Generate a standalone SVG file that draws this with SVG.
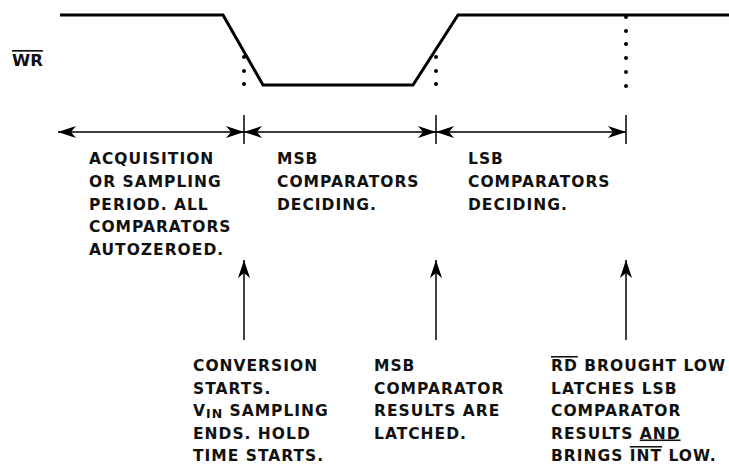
<svg xmlns="http://www.w3.org/2000/svg" width="729" height="465" viewBox="0 0 729 465">
<style>
.t{font-family:"DejaVu Sans","Open Sans",sans-serif;font-weight:700;font-size:15.5px;letter-spacing:1px;fill:#111}
.ovl{text-decoration:overline}
.unl{text-decoration:underline}
.sig{fill:none;stroke:#000;stroke-width:3;stroke-linejoin:miter}
.ar{stroke:#000;stroke-width:1.5;fill:none}
.tk{stroke:#000;stroke-width:1.5}
</style>
<defs>
<marker id="ah" viewBox="0 0 18 12" refX="18" refY="6" markerWidth="18" markerHeight="12" markerUnits="userSpaceOnUse" orient="auto-start-reverse">
<path d="M0,0 L18,6 L0,12 L5,6 z" fill="#000"/>
</marker>
</defs>
<rect width="729" height="465" fill="#fff"/>
<g id="wr-signal">
<polyline class="sig" points="60,15 223,15 263,85 413,85 458,15 729,15"/>
<text class="t ovl" x="12" y="66" style="font-size:16.5px;letter-spacing:0px">WR</text>
</g>
<g id="dots">
<circle cx="244" cy="57" r="2"/><circle cx="244" cy="71" r="2"/><circle cx="244" cy="84" r="2"/>
<circle cx="436" cy="57" r="2"/><circle cx="436" cy="71" r="2"/><circle cx="436" cy="84" r="2"/>
<circle cx="626" cy="17" r="2"/><circle cx="626" cy="31" r="2"/><circle cx="626" cy="44" r="2"/>
<circle cx="626" cy="58" r="2"/><circle cx="626" cy="72" r="2"/><circle cx="626" cy="86" r="2"/>
</g>
<g id="connectors">
<line class="tk" x1="244" y1="115" x2="244" y2="144"/>
<line class="tk" x1="436" y1="115" x2="436" y2="144"/>
<line class="tk" x1="626" y1="115" x2="626" y2="144"/>
<line class="ar" x1="58" y1="132" x2="244" y2="132" marker-start="url(#ah)" marker-end="url(#ah)"/>
<line class="ar" x1="244" y1="132" x2="436" y2="132" marker-start="url(#ah)" marker-end="url(#ah)"/>
<line class="ar" x1="436" y1="132" x2="626" y2="132" marker-start="url(#ah)" marker-end="url(#ah)"/>
<line class="ar" x1="244" y1="340" x2="244" y2="260" marker-end="url(#ah)"/>
<line class="ar" x1="436" y1="340" x2="436" y2="260" marker-end="url(#ah)"/>
<line class="ar" x1="626" y1="340" x2="626" y2="260" marker-end="url(#ah)"/>
</g>
<g id="acquisition">
<text class="t" x="89" y="164">ACQUISITION</text>
<text class="t" x="89" y="187">OR SAMPLING</text>
<text class="t" x="89" y="209.5">PERIOD. ALL</text>
<text class="t" x="89" y="232">COMPARATORS</text>
<text class="t" x="89" y="255">AUTOZEROED.</text>
</g>
<g id="msb-deciding">
<text class="t" x="277" y="164">MSB</text>
<text class="t" x="277" y="187">COMPARATORS</text>
<text class="t" x="277" y="209.5">DECIDING.</text>
</g>
<g id="lsb-deciding">
<text class="t" x="468" y="164">LSB</text>
<text class="t" x="468" y="187">COMPARATORS</text>
<text class="t" x="468" y="209.5">DECIDING.</text>
</g>
<g id="conversion-starts">
<text class="t" x="193" y="371">CONVERSION</text>
<text class="t" x="193" y="393.5">STARTS.</text>
<text class="t" x="193" y="416">V<tspan font-size="12.5" dy="2">IN</tspan><tspan dy="-2"> SAMPLING</tspan></text>
<text class="t" x="193" y="438.5">ENDS. HOLD</text>
<text class="t" x="193" y="461">TIME STARTS.</text>
</g>
<g id="msb-latched">
<text class="t" x="374" y="371">MSB</text>
<text class="t" x="374" y="393.5">COMPARATOR</text>
<text class="t" x="374" y="416">RESULTS ARE</text>
<text class="t" x="374" y="438.5">LATCHED.</text>
</g>
<g id="rd-low">
<text class="t" x="551" y="371"><tspan class="ovl">RD</tspan> BROUGHT LOW</text>
<text class="t" x="551" y="393.5">LATCHES LSB</text>
<text class="t" x="551" y="416">COMPARATOR</text>
<text class="t" x="551" y="438.5">RESULTS <tspan class="unl">AND</tspan></text>
<text class="t" x="551" y="461">BRINGS <tspan class="ovl">INT</tspan> LOW.</text>
</g>
</svg>
